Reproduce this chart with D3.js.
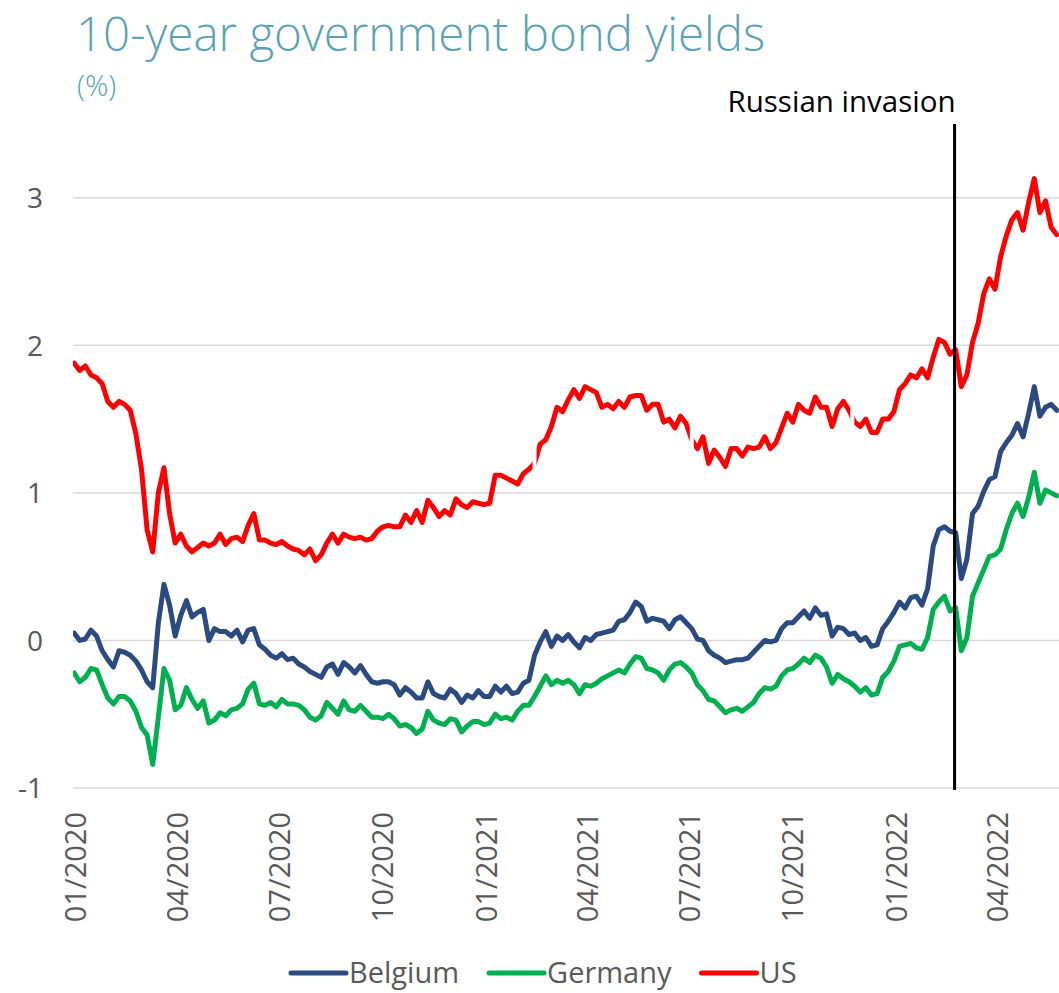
<!DOCTYPE html>
<html>
<head>
<meta charset="utf-8">
<script src="https://cdn.jsdelivr.net/npm/d3@7"></script>
<style>
  body { margin: 0; background: #ffffff; }
  svg { display: block; }
  text { font-family: "Open Sans", "Noto Sans", sans-serif; }
</style>
</head>
<body>
<svg id="chart" width="1059" height="993"></svg>
<script>
// Sampling dates (every five days) shared by the three series
const dates = [
  "2020-01-02","2020-01-07","2020-01-12","2020-01-17","2020-01-22","2020-01-27","2020-02-01","2020-02-06","2020-02-11","2020-02-16",
  "2020-02-21","2020-02-26","2020-03-02","2020-03-07","2020-03-12","2020-03-17","2020-03-22","2020-03-27","2020-04-01","2020-04-06",
  "2020-04-11","2020-04-16","2020-04-21","2020-04-26","2020-05-01","2020-05-06","2020-05-11","2020-05-16","2020-05-21","2020-05-26",
  "2020-05-31","2020-06-05","2020-06-10","2020-06-15","2020-06-20","2020-06-25","2020-06-30","2020-07-05","2020-07-10","2020-07-15",
  "2020-07-20","2020-07-25","2020-07-30","2020-08-04","2020-08-09","2020-08-14","2020-08-19","2020-08-24","2020-08-29","2020-09-03",
  "2020-09-08","2020-09-13","2020-09-18","2020-09-23","2020-09-28","2020-10-03","2020-10-08","2020-10-13","2020-10-18","2020-10-23",
  "2020-10-28","2020-11-02","2020-11-07","2020-11-12","2020-11-17","2020-11-22","2020-11-27","2020-12-02","2020-12-07","2020-12-12",
  "2020-12-17","2020-12-22","2020-12-27","2021-01-01","2021-01-06","2021-01-11","2021-01-16","2021-01-21","2021-01-26","2021-01-31",
  "2021-02-05","2021-02-10","2021-02-15","2021-02-20","2021-02-25","2021-03-02","2021-03-07","2021-03-12","2021-03-17","2021-03-22",
  "2021-03-27","2021-04-01","2021-04-06","2021-04-11","2021-04-16","2021-04-21","2021-04-26","2021-05-01","2021-05-06","2021-05-11",
  "2021-05-16","2021-05-21","2021-05-26","2021-05-31","2021-06-05","2021-06-10","2021-06-15","2021-06-20","2021-06-25","2021-06-30",
  "2021-07-05","2021-07-10","2021-07-15","2021-07-20","2021-07-25","2021-07-30","2021-08-04","2021-08-09","2021-08-14","2021-08-19",
  "2021-08-24","2021-08-29","2021-09-03","2021-09-08","2021-09-13","2021-09-18","2021-09-23","2021-09-28","2021-10-03","2021-10-08",
  "2021-10-13","2021-10-18","2021-10-23","2021-10-28","2021-11-02","2021-11-07","2021-11-12","2021-11-17","2021-11-22","2021-11-27",
  "2021-12-02","2021-12-07","2021-12-12","2021-12-17","2021-12-22","2021-12-27","2022-01-01","2022-01-06","2022-01-11","2022-01-16",
  "2022-01-21","2022-01-26","2022-01-31","2022-02-05","2022-02-10","2022-02-15","2022-02-20","2022-02-25","2022-03-02","2022-03-07",
  "2022-03-12","2022-03-17","2022-03-22","2022-03-27","2022-04-01","2022-04-06","2022-04-11","2022-04-16","2022-04-21","2022-04-26",
  "2022-05-01","2022-05-06","2022-05-11","2022-05-16","2022-05-21","2022-05-26"
];

// 10-year yields, %
const belgium = [
  0.05, 0.00, 0.01, 0.07, 0.03,-0.07,-0.13,-0.18,-0.07,-0.08,
 -0.10,-0.14,-0.20,-0.28,-0.32, 0.12, 0.38, 0.24, 0.03, 0.17,
  0.27, 0.16, 0.19, 0.21, 0.00, 0.08, 0.06, 0.06, 0.03, 0.07,
 -0.01, 0.07, 0.08,-0.03,-0.06,-0.10,-0.12,-0.09,-0.13,-0.12,
 -0.16,-0.18,-0.21,-0.23,-0.25,-0.18,-0.16,-0.23,-0.15,-0.18,
 -0.22,-0.17,-0.23,-0.28,-0.29,-0.28,-0.28,-0.30,-0.37,-0.32,
 -0.35,-0.39,-0.39,-0.28,-0.36,-0.38,-0.39,-0.33,-0.36,-0.42,
 -0.37,-0.39,-0.34,-0.38,-0.38,-0.31,-0.35,-0.31,-0.36,-0.35,
 -0.29,-0.27,-0.10,-0.01, 0.06,-0.04, 0.03, 0.00, 0.04,-0.01,
 -0.05, 0.02, 0.00, 0.04, 0.05, 0.06, 0.07, 0.13, 0.14, 0.19,
  0.26, 0.23, 0.13, 0.15, 0.14, 0.13, 0.08, 0.14, 0.16, 0.12,
  0.08, 0.01, 0.00,-0.07,-0.10,-0.12,-0.15,-0.14,-0.13,-0.13,
 -0.12,-0.08,-0.04, 0.00,-0.01, 0.00, 0.08, 0.12, 0.12, 0.16,
  0.20, 0.15, 0.22, 0.17, 0.18, 0.03, 0.09, 0.08, 0.04, 0.05,
  0.00, 0.02,-0.04,-0.03, 0.08, 0.13, 0.19, 0.26, 0.22, 0.29,
  0.30, 0.24, 0.35, 0.64, 0.75, 0.77, 0.74, 0.73, 0.42, 0.55,
  0.86, 0.91, 1.01, 1.09, 1.11, 1.28, 1.34, 1.39, 1.47, 1.38,
  1.54, 1.72, 1.52, 1.58, 1.60, 1.56
];

const germany = [
 -0.22,-0.28,-0.25,-0.19,-0.20,-0.30,-0.39,-0.43,-0.38,-0.38,
 -0.41,-0.48,-0.59,-0.64,-0.84,-0.52,-0.19,-0.27,-0.47,-0.44,
 -0.32,-0.40,-0.46,-0.41,-0.56,-0.54,-0.49,-0.51,-0.47,-0.46,
 -0.43,-0.33,-0.29,-0.43,-0.44,-0.42,-0.45,-0.40,-0.43,-0.43,
 -0.44,-0.47,-0.52,-0.54,-0.51,-0.42,-0.46,-0.50,-0.41,-0.47,
 -0.48,-0.44,-0.48,-0.52,-0.52,-0.53,-0.50,-0.53,-0.58,-0.57,
 -0.59,-0.63,-0.60,-0.48,-0.54,-0.56,-0.57,-0.53,-0.54,-0.62,
 -0.58,-0.55,-0.55,-0.57,-0.56,-0.50,-0.53,-0.52,-0.54,-0.48,
 -0.44,-0.44,-0.38,-0.31,-0.24,-0.30,-0.27,-0.29,-0.27,-0.30,
 -0.36,-0.30,-0.31,-0.29,-0.26,-0.24,-0.22,-0.20,-0.22,-0.16,
 -0.11,-0.12,-0.19,-0.20,-0.22,-0.27,-0.20,-0.16,-0.15,-0.18,
 -0.22,-0.30,-0.34,-0.40,-0.41,-0.45,-0.49,-0.47,-0.46,-0.48,
 -0.45,-0.42,-0.36,-0.32,-0.33,-0.31,-0.24,-0.20,-0.19,-0.16,
 -0.12,-0.15,-0.10,-0.12,-0.18,-0.29,-0.23,-0.26,-0.28,-0.31,
 -0.35,-0.32,-0.37,-0.36,-0.25,-0.21,-0.14,-0.04,-0.03,-0.02,
 -0.05,-0.06, 0.02, 0.21, 0.26, 0.30, 0.20, 0.22,-0.07, 0.02,
  0.30, 0.39, 0.48, 0.57, 0.58, 0.62, 0.75, 0.86, 0.93, 0.84,
  0.97, 1.14, 0.93, 1.02, 1.00, 0.98
];

const us = [
  1.88, 1.83, 1.86, 1.80, 1.78, 1.74, 1.62, 1.58, 1.62, 1.60,
  1.56, 1.40, 1.16, 0.75, 0.60, 1.00, 1.17, 0.86, 0.66, 0.72,
  0.64, 0.60, 0.63, 0.66, 0.64, 0.66, 0.72, 0.65, 0.69, 0.70,
  0.67, 0.78, 0.86, 0.68, 0.68, 0.66, 0.65, 0.67, 0.64, 0.62,
  0.61, 0.58, 0.62, 0.54, 0.58, 0.66, 0.72, 0.66, 0.72, 0.70,
  0.69, 0.70, 0.68, 0.69, 0.74, 0.77, 0.78, 0.77, 0.77, 0.85,
  0.80, 0.88, 0.80, 0.95, 0.90, 0.84, 0.88, 0.85, 0.96, 0.92,
  0.90, 0.94, 0.93, 0.92, 0.93, 1.12, 1.12, 1.10, 1.08, 1.06,
  1.13, 1.16, 1.20, 1.33, 1.36, 1.45, 1.58, 1.55, 1.63, 1.70,
  1.64, 1.72, 1.70, 1.68, 1.58, 1.60, 1.57, 1.62, 1.58, 1.65,
  1.66, 1.66, 1.56, 1.60, 1.60, 1.48, 1.50, 1.44, 1.52, 1.47,
  1.36, 1.30, 1.38, 1.20, 1.29, 1.24, 1.18, 1.30, 1.30, 1.25,
  1.31, 1.30, 1.31, 1.38, 1.30, 1.34, 1.44, 1.54, 1.48, 1.60,
  1.56, 1.54, 1.65, 1.58, 1.58, 1.45, 1.57, 1.62, 1.56, 1.48,
  1.45, 1.50, 1.41, 1.41, 1.50, 1.50, 1.55, 1.70, 1.74, 1.80,
  1.78, 1.84, 1.78, 1.92, 2.04, 2.02, 1.94, 1.97, 1.72, 1.80,
  2.02, 2.15, 2.35, 2.45, 2.38, 2.60, 2.74, 2.85, 2.90, 2.78,
  2.97, 3.13, 2.90, 2.98, 2.80, 2.75
];

// US market holidays (no US quote while European markets traded)
const usMissingDates = ["2021-02-15", "2021-07-05", "2021-11-25"];

const seriesNames = ["Belgium", "Germany", "US"];
const seriesColors = ["#2b4a80", "#00b050", "#ff0000"];

const yTicks = [-1, 0, 1, 2, 3];
const xTickDates = ["2020-01-01","2020-04-01","2020-07-01","2020-10-01","2021-01-01",
                    "2021-04-01","2021-07-01","2021-10-01","2022-01-01","2022-04-01"];

const eventDate = "2022-02-24";
const eventLabel = "Russian invasion";

const titleText = "10-year government bond yields";
const unitText = "(%)";

// ---------------------------------------------------------------
const parse = d3.timeParse("%Y-%m-%d");
const svg = d3.select("#chart");
const W = 1059;

const plot = { left: 73, right: 1059, top: 124, bottom: 788 };

const x = d3.scaleTime()
  .domain([parse("2020-01-01"), parse("2022-05-28")])
  .range([plot.left, plot.right]);

const y = d3.scaleLinear()
  .domain([-1, 3.5])
  .range([plot.bottom, plot.top]);

// Title and unit
svg.append("text")
  .attr("x", 76).attr("y", 51)
  .attr("fill", "#5ba3b3")
  .style("font-weight", 300)
  .style("font-size", "47.5px")
  .text(titleText);
svg.append("text")
  .attr("x", 77).attr("y", 96)
  .attr("fill", "#5ba3b3")
  .style("font-weight", 300)
  .style("font-size", "29px")
  .text(unitText);

// Gridlines
svg.append("g")
  .selectAll("line")
  .data(yTicks)
  .join("line")
  .attr("x1", plot.left).attr("x2", plot.right)
  .attr("y1", d => y(d)).attr("y2", d => y(d))
  .attr("stroke", "#d9d9d9")
  .attr("stroke-width", 1.5);

// Y axis labels
const yAxis = d3.axisLeft(y).tickValues(yTicks).tickSize(0).tickPadding(0).tickFormat(d => String(d));
svg.append("g")
  .attr("transform", `translate(43,0)`)
  .call(yAxis)
  .call(g => g.select(".domain").remove())
  .call(g => g.selectAll("text")
    .attr("fill", "#595959")
    .style("font-size", "28px")
    .style("font-family", "'Open Sans', sans-serif")
    .attr("dy", "0.35em"));

// X axis labels (rotated)
const xAxis = d3.axisBottom(x)
  .tickValues(xTickDates.map(parse))
  .tickSize(0)
  .tickFormat(d3.timeFormat("%m/%Y"));
svg.append("g")
  .attr("transform", `translate(0,${plot.bottom})`)
  .call(xAxis)
  .call(g => g.select(".domain").remove())
  .call(g => g.selectAll("text")
    .attr("transform", "rotate(-90)")
    .attr("x", -24)
    .attr("y", 0)
    .attr("dy", "0.42em")
    .style("text-anchor", "end")
    .style("font-size", "29px")
    .style("font-family", "'Open Sans', sans-serif")
    .attr("fill", "#595959"));

// Gaps in the US series on US holidays
const defs = svg.append("defs");
const mask = defs.append("mask").attr("id", "us-gaps")
  .attr("maskUnits", "userSpaceOnUse")
  .attr("x", 0).attr("y", 0).attr("width", W).attr("height", 993);
mask.append("rect").attr("x", 0).attr("y", 0).attr("width", W).attr("height", 993).attr("fill", "#fff");
mask.selectAll("rect.gap")
  .data(usMissingDates)
  .join("rect")
  .attr("class", "gap")
  .attr("x", d => x(parse(d)) - 2)
  .attr("width", 4)
  .attr("y", 0).attr("height", 993)
  .attr("fill", "#000");

// Lines
const seriesValues = [belgium, germany, us];
const line = d3.line()
  .defined(d => d.v != null)
  .x(d => x(d.t))
  .y(d => y(d.v));

const clip = defs.append("clipPath").attr("id", "plot-clip");
clip.append("rect").attr("x", plot.left).attr("y", 0).attr("width", plot.right - plot.left).attr("height", 993);

const linesG = svg.append("g").attr("clip-path", "url(#plot-clip)");
seriesValues.forEach((vals, i) => {
  const pts = dates.map((d, j) => ({ t: parse(d), v: vals[j] }));
  const p = linesG.append("path")
    .datum(pts)
    .attr("fill", "none")
    .attr("stroke", seriesColors[i])
    .attr("stroke-width", 5)
    .attr("stroke-linejoin", "round")
    .attr("stroke-linecap", "round")
    .attr("d", line);
  if (seriesNames[i] === "US") p.attr("mask", "url(#us-gaps)");
});

// Event marker
const ex = x(parse(eventDate));
svg.append("line")
  .attr("x1", ex).attr("x2", ex)
  .attr("y1", plot.top).attr("y2", plot.bottom + 2)
  .attr("stroke", "#000")
  .attr("stroke-width", 3);
svg.append("text")
  .attr("x", ex + 1).attr("y", 112)
  .attr("text-anchor", "end")
  .attr("fill", "#000")
  .style("font-size", "29.5px")
  .text(eventLabel);

// Legend
const legendItems = seriesNames.map((n, i) => ({ name: n, color: seriesColors[i] }));
const legend = svg.append("g").attr("transform", "translate(0,973)");
let lx = 291;
legendItems.forEach(item => {
  legend.append("line")
    .attr("x1", lx).attr("x2", lx + 55)
    .attr("y1", 0).attr("y2", 0)
    .attr("stroke", item.color)
    .attr("stroke-width", 5)
    .attr("stroke-linecap", "round");
  const t = legend.append("text")
    .attr("x", lx + 58).attr("y", 0)
    .attr("dy", "0.34em")
    .attr("fill", "#595959")
    .style("font-size", "29px")
    .text(item.name);
  lx += 58 + t.node().getComputedTextLength() + 30;
});
</script>
</body>
</html>
